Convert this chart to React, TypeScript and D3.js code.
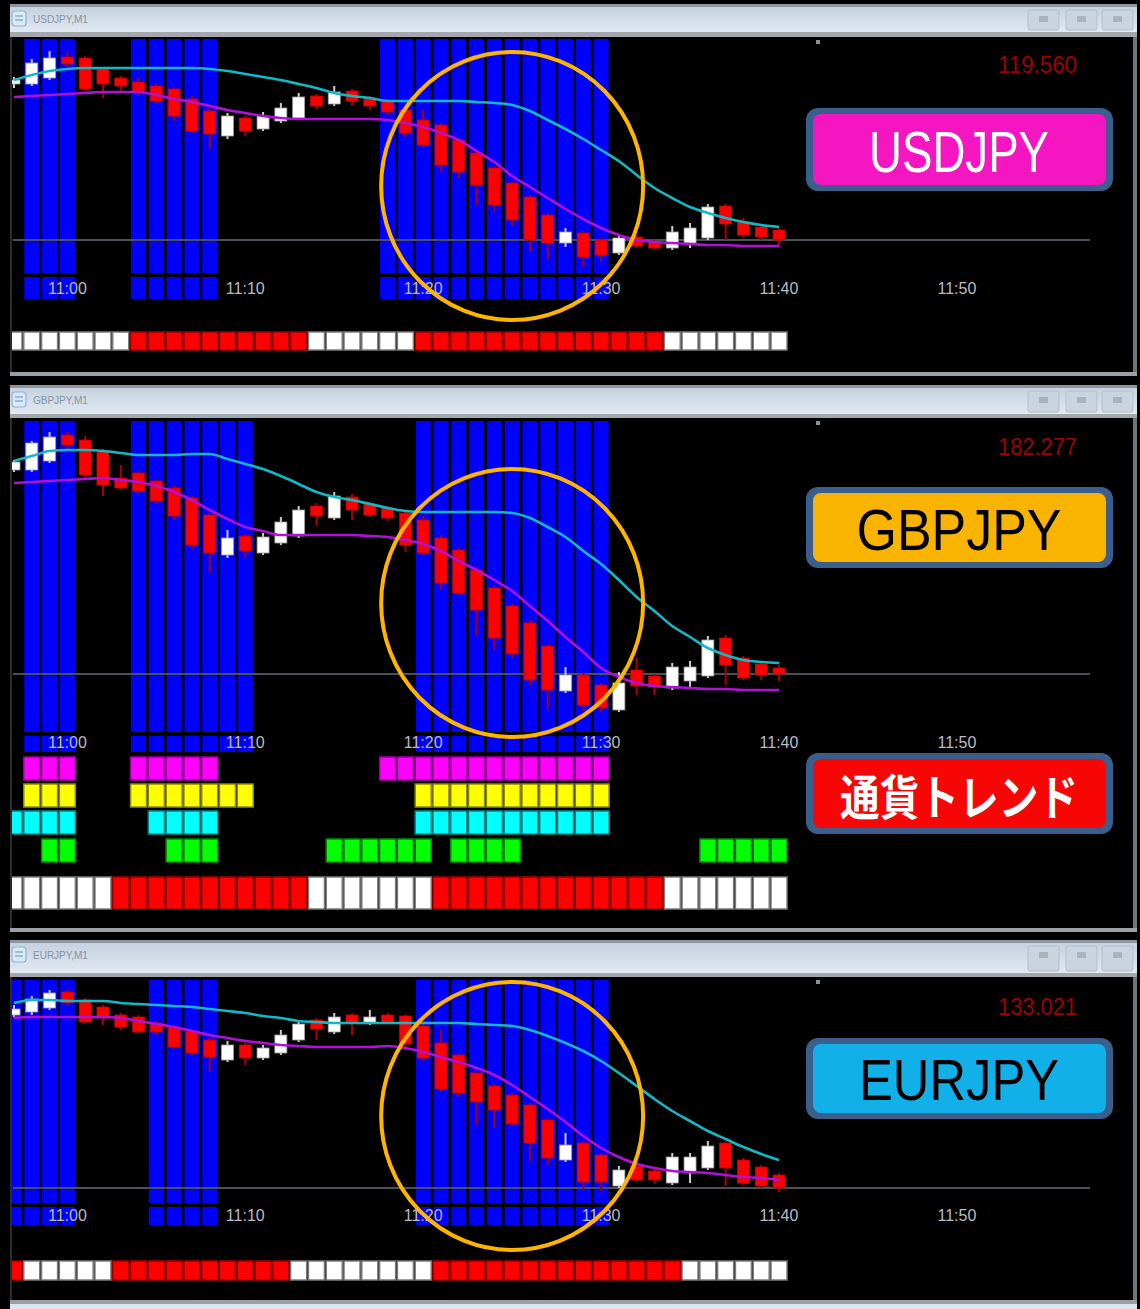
import React from "react";
import * as d3 from "d3";

// ---------- categories ----------
const candleTimes = [
  "10:57", "10:58", "10:59", "11:00", "11:01", "11:02", "11:03", "11:04", "11:05", "11:06", "11:07",
  "11:08", "11:09", "11:10", "11:11", "11:12", "11:13", "11:14", "11:15", "11:16", "11:17", "11:18",
  "11:19", "11:20", "11:21", "11:22", "11:23", "11:24", "11:25", "11:26", "11:27", "11:28", "11:29",
  "11:30", "11:31", "11:32", "11:33", "11:34", "11:35", "11:36", "11:37", "11:38", "11:39", "11:40",
];
const timeTicks = ["11:00", "11:10", "11:20", "11:30", "11:40", "11:50"];

// ---------- USDJPY ----------
const usdOpen = [119.716, 119.716, 119.722, 119.743, 119.742, 119.731, 119.722, 119.718, 119.714, 119.711, 119.701, 119.689, 119.664, 119.682, 119.671, 119.679, 119.682, 119.704, 119.696, 119.709, 119.702, 119.699, 119.690, 119.680, 119.675, 119.660, 119.647, 119.632, 119.617, 119.603, 119.585, 119.557, 119.567, 119.560, 119.547, 119.563, 119.558, 119.552, 119.557, 119.562, 119.594, 119.578, 119.573, 119.570];
const usdHigh = [119.723, 119.741, 119.749, 119.748, 119.744, 119.733, 119.724, 119.722, 119.716, 119.713, 119.704, 119.692, 119.687, 119.684, 119.688, 119.697, 119.707, 119.706, 119.714, 119.711, 119.704, 119.701, 119.692, 119.690, 119.677, 119.662, 119.649, 119.634, 119.619, 119.605, 119.587, 119.572, 119.569, 119.562, 119.565, 119.565, 119.560, 119.574, 119.577, 119.596, 119.596, 119.582, 119.575, 119.572];
const usdLow = [119.712, 119.714, 119.720, 119.732, 119.709, 119.702, 119.709, 119.704, 119.696, 119.679, 119.667, 119.651, 119.661, 119.664, 119.669, 119.677, 119.680, 119.691, 119.694, 119.694, 119.690, 119.685, 119.663, 119.652, 119.629, 119.622, 119.595, 119.588, 119.574, 119.548, 119.540, 119.553, 119.533, 119.538, 119.545, 119.552, 119.550, 119.550, 119.552, 119.560, 119.560, 119.563, 119.560, 119.555];
const usdClose = [119.720, 119.737, 119.742, 119.736, 119.711, 119.716, 119.714, 119.707, 119.699, 119.684, 119.669, 119.666, 119.684, 119.669, 119.684, 119.692, 119.703, 119.694, 119.708, 119.699, 119.694, 119.688, 119.667, 119.655, 119.635, 119.628, 119.615, 119.595, 119.580, 119.560, 119.557, 119.568, 119.543, 119.545, 119.562, 119.554, 119.552, 119.568, 119.572, 119.593, 119.576, 119.565, 119.563, 119.560];
const usdSlowMA = [119.720, 119.725, 119.729, 119.731, 119.732, 119.732, 119.732, 119.732, 119.732, 119.732, 119.732, 119.731, 119.729, 119.726, 119.723, 119.720, 119.716, 119.712, 119.707, 119.704, 119.702, 119.699, 119.699, 119.699, 119.699, 119.699, 119.698, 119.697, 119.695, 119.689, 119.680, 119.671, 119.661, 119.650, 119.639, 119.625, 119.612, 119.602, 119.593, 119.587, 119.582, 119.578, 119.575, 119.573];
const usdFastMA = [119.703, 119.704, 119.705, 119.706, 119.707, 119.708, 119.708, 119.708, 119.705, 119.701, 119.698, 119.694, 119.690, 119.687, 119.684, 119.682, 119.681, 119.681, 119.681, 119.681, 119.681, 119.680, 119.677, 119.673, 119.667, 119.660, 119.649, 119.638, 119.624, 119.613, 119.602, 119.591, 119.581, 119.572, 119.565, 119.560, 119.558, 119.557, 119.556, 119.555, 119.555, 119.554, 119.554, 119.554];
const usdSignalBars = [1, 2, 3, 7, 8, 9, 10, 11, 21, 22, 23, 24, 25, 26, 27, 28, 29, 30, 31, 32, 33];
const usdTrend = "WWWWWWWRRRRRRRRRRWWWWWWRRRRRRRRRRRRRRWWWWWWW";
const usdPrice = "119.560";

// ---------- GBPJPY ----------
const gbpOpen = [182.481, 182.481, 182.490, 182.516, 182.511, 182.500, 182.473, 182.478, 182.470, 182.463, 182.453, 182.436, 182.396, 182.415, 182.398, 182.408, 182.415, 182.445, 182.433, 182.454, 182.447, 182.443, 182.438, 182.431, 182.413, 182.401, 182.381, 182.363, 182.345, 182.328, 182.305, 182.260, 182.276, 182.266, 182.241, 182.281, 182.275, 182.263, 182.270, 182.275, 182.313, 182.293, 182.287, 182.283];
const gbpHigh = [182.491, 182.510, 182.519, 182.519, 182.515, 182.502, 182.486, 182.480, 182.472, 182.465, 182.455, 182.438, 182.421, 182.417, 182.418, 182.434, 182.445, 182.448, 182.459, 182.457, 182.449, 182.445, 182.440, 182.435, 182.416, 182.403, 182.384, 182.366, 182.347, 182.331, 182.307, 182.284, 182.278, 182.268, 182.279, 182.293, 182.277, 182.288, 182.290, 182.315, 182.316, 182.295, 182.289, 182.286];
const gbpLow = [182.479, 182.479, 182.488, 182.500, 182.473, 182.455, 182.461, 182.457, 182.447, 182.431, 182.402, 182.378, 182.393, 182.393, 182.396, 182.406, 182.413, 182.425, 182.431, 182.431, 182.434, 182.430, 182.399, 182.396, 182.361, 182.355, 182.316, 182.301, 182.293, 182.266, 182.241, 182.258, 182.240, 182.239, 182.239, 182.256, 182.256, 182.261, 182.263, 182.273, 182.266, 182.271, 182.271, 182.270];
const gbpClose = [182.489, 182.508, 182.514, 182.506, 182.476, 182.466, 182.463, 182.460, 182.450, 182.435, 182.406, 182.398, 182.413, 182.400, 182.414, 182.429, 182.441, 182.435, 182.455, 182.441, 182.436, 182.433, 182.406, 182.398, 182.368, 182.358, 182.341, 182.313, 182.297, 182.271, 182.261, 182.276, 182.246, 182.243, 182.268, 182.265, 182.264, 182.284, 182.284, 182.311, 182.286, 182.273, 182.276, 182.277];
const gbpSlowMA = [182.490, 182.495, 182.500, 182.501, 182.501, 182.500, 182.498, 182.496, 182.496, 182.496, 182.497, 182.497, 182.492, 182.487, 182.482, 182.475, 182.467, 182.459, 182.454, 182.451, 182.447, 182.443, 182.440, 182.439, 182.439, 182.439, 182.439, 182.439, 182.438, 182.433, 182.424, 182.414, 182.400, 182.387, 182.371, 182.354, 182.340, 182.325, 182.314, 182.303, 182.296, 182.291, 182.289, 182.288];
const gbpFastMA = [182.468, 182.469, 182.470, 182.471, 182.472, 182.473, 182.471, 182.469, 182.465, 182.459, 182.451, 182.441, 182.432, 182.424, 182.420, 182.416, 182.416, 182.416, 182.416, 182.416, 182.415, 182.414, 182.411, 182.407, 182.400, 182.390, 182.381, 182.371, 182.360, 182.345, 182.330, 182.314, 182.299, 182.283, 182.274, 182.268, 182.265, 182.264, 182.263, 182.262, 182.262, 182.261, 182.261, 182.261];
const gbpSignalBars = [1, 2, 3, 7, 8, 9, 10, 11, 12, 13, 23, 24, 25, 26, 27, 28, 29, 30, 31, 32, 33];
const gbpTrend = "WWWWWWRRRRRRRRRRRWWWWWWWRRRRRRRRRRRRRWWWWWWW";
const gbpPrice = "182.277";
// currency-trend rows (通貨トレンド)
const trendUsdRow = [1, 2, 3, 7, 8, 9, 10, 11, 21, 22, 23, 24, 25, 26, 27, 28, 29, 30, 31, 32, 33];
const trendGbpRow = [1, 2, 3, 7, 8, 9, 10, 11, 12, 13, 23, 24, 25, 26, 27, 28, 29, 30, 31, 32, 33];
const trendEurRow = [0, 1, 2, 3, 8, 9, 10, 11, 23, 24, 25, 26, 27, 28, 29, 30, 31, 32, 33];
const trendJpyRow = [2, 3, 9, 10, 11, 18, 19, 20, 21, 22, 23, 25, 26, 27, 28, 39, 40, 41, 42, 43];

// ---------- EURJPY ----------
const eurOpen = [133.194, 133.197, 133.201, 133.217, 133.209, 133.202, 133.194, 133.192, 133.186, 133.182, 133.177, 133.169, 133.149, 133.164, 133.151, 133.156, 133.169, 133.189, 133.177, 133.194, 133.186, 133.194, 133.193, 133.183, 133.166, 133.154, 133.136, 133.123, 133.114, 133.104, 133.089, 133.049, 133.066, 133.054, 133.023, 133.043, 133.038, 133.026, 133.036, 133.041, 133.066, 133.049, 133.042, 133.034];
const eurHigh = [133.204, 133.213, 133.219, 133.219, 133.211, 133.204, 133.196, 133.194, 133.188, 133.184, 133.179, 133.171, 133.168, 133.166, 133.164, 133.179, 133.189, 133.191, 133.196, 133.196, 133.199, 133.196, 133.195, 133.185, 133.179, 133.156, 133.138, 133.125, 133.116, 133.106, 133.091, 133.076, 133.068, 133.056, 133.043, 133.049, 133.040, 133.056, 133.056, 133.068, 133.068, 133.051, 133.044, 133.036];
const eurLow = [133.192, 133.194, 133.199, 133.203, 133.185, 133.184, 133.179, 133.175, 133.174, 133.160, 133.153, 133.137, 133.147, 133.144, 133.149, 133.154, 133.167, 133.169, 133.175, 133.174, 133.184, 133.185, 133.159, 133.148, 133.117, 133.112, 133.084, 133.081, 133.083, 133.048, 133.043, 133.047, 133.019, 133.018, 133.021, 133.027, 133.025, 133.024, 133.026, 133.039, 133.023, 133.024, 133.021, 133.017];
const eurClose = [133.200, 133.210, 133.216, 133.206, 133.187, 133.191, 133.182, 133.177, 133.177, 133.162, 133.156, 133.152, 133.164, 133.151, 133.161, 133.174, 133.185, 133.180, 133.192, 133.186, 133.192, 133.187, 133.165, 133.151, 133.120, 133.116, 133.107, 133.099, 133.085, 133.066, 133.051, 133.064, 133.027, 133.027, 133.039, 133.029, 133.029, 133.052, 133.052, 133.063, 133.041, 133.026, 133.023, 133.021];
const eurSlowMA = [133.206, 133.209, 133.209, 133.208, 133.208, 133.208, 133.206, 133.205, 133.204, 133.203, 133.202, 133.200, 133.198, 133.196, 133.193, 133.191, 133.188, 133.187, 133.186, 133.186, 133.186, 133.186, 133.186, 133.186, 133.186, 133.186, 133.185, 133.184, 133.183, 133.179, 133.173, 133.166, 133.158, 133.148, 133.136, 133.123, 133.110, 133.098, 133.088, 133.078, 133.070, 133.062, 133.055, 133.049];
const eurFastMA = [133.191, 133.192, 133.192, 133.192, 133.192, 133.192, 133.191, 133.188, 133.185, 133.182, 133.178, 133.174, 133.171, 133.168, 133.166, 133.164, 133.163, 133.162, 133.162, 133.162, 133.162, 133.163, 133.161, 133.157, 133.152, 133.147, 133.141, 133.134, 133.124, 133.112, 133.100, 133.087, 133.073, 133.061, 133.052, 133.045, 133.041, 133.038, 133.037, 133.036, 133.034, 133.032, 133.031, 133.029];
const eurSignalBars = [0, 1, 2, 3, 8, 9, 10, 11, 23, 24, 25, 26, 27, 28, 29, 30, 31, 32, 33];
const eurTrend = "RWWWWWRRRRRRRRRRWWWWWWWWRRRRRRRRRRRRRRWWWWWW";
const eurPrice = "133.021";

// ---------- layout / style ----------
const parseT = d3.timeParse("%H:%M");
const xScale = d3
  .scaleTime()
  .domain([parseT(candleTimes[0]) as Date, parseT(candleTimes[candleTimes.length - 1]) as Date])
  .range([14, 779]);
const cx = (i: number) => xScale(parseT(candleTimes[i]) as Date);

const WIN_L = 10;
const WIN_R = 1137;

type Row = { idx: number[]; fill: string; stroke: string; top: number; h: number };
type PanelCfg = {
  symbol: string;
  open: number[]; high: number[]; low: number[]; close: number[];
  slow: number[]; fast: number[];
  signal: number[]; trend: string; price: string;
  winTop: number; titleBottom: number; chartTop: number; chartBottom: number;
  priceTop: number; priceBottom: number;
  blueTop: number; blueGap: number; blueBottom: number;
  tickY: number; trendTop: number; trendH: number;
  priceY: number;
  boxes: { y: number; h: number; fill: string; text: string; color: string; size: number; len: number; base: number; bold?: boolean }[];
  circleTime: string; circlePrice: number;
  rows?: Row[];
};

const panels: PanelCfg[] = [
  {
    symbol: "USDJPY", open: usdOpen, high: usdHigh, low: usdLow, close: usdClose,
    slow: usdSlowMA, fast: usdFastMA, signal: usdSignalBars, trend: usdTrend, price: usdPrice,
    winTop: 7, titleBottom: 32, chartTop: 37, chartBottom: 372,
    priceTop: 119.763, priceBottom: 119.428,
    blueTop: 39, blueGap: 273, blueBottom: 299, tickY: 294, trendTop: 332, trendH: 18,
    priceY: 73,
    boxes: [{ y: 108, h: 83, fill: "#f516c2", text: "USDJPY", color: "#ffffff", size: 58, len: 180, base: 172 }],
    circleTime: "11:25", circlePrice: 119.614,
  },
  {
    symbol: "GBPJPY", open: gbpOpen, high: gbpHigh, low: gbpLow, close: gbpClose,
    slow: gbpSlowMA, fast: gbpFastMA, signal: gbpSignalBars, trend: gbpTrend, price: gbpPrice,
    winTop: 388, titleBottom: 414, chartTop: 418, chartBottom: 928,
    priceTop: 182.533, priceBottom: 182.023,
    blueTop: 421, blueGap: 732, blueBottom: 752, tickY: 748, trendTop: 877, trendH: 32,
    priceY: 455,
    boxes: [
      { y: 487, h: 81, fill: "#f8b400", text: "GBPJPY", color: "#000000", size: 58, len: 205, base: 550 },
      { y: 753, h: 81, fill: "#f80606", text: "通貨トレンド", color: "#ffffff", size: 48, len: 238, base: 815, bold: true },
    ],
    circleTime: "11:25", circlePrice: 182.348,
    rows: [
      { idx: trendUsdRow, fill: "#ff00ff", stroke: "#9a009a", top: 757, h: 23 },
      { idx: trendGbpRow, fill: "#ffff00", stroke: "#8a8a00", top: 784, h: 23 },
      { idx: trendEurRow, fill: "#00ffff", stroke: "#008888", top: 811, h: 23 },
      { idx: trendJpyRow, fill: "#00ff00", stroke: "#008a00", top: 839, h: 23 },
    ],
  },
  {
    symbol: "EURJPY", open: eurOpen, high: eurHigh, low: eurLow, close: eurClose,
    slow: eurSlowMA, fast: eurFastMA, signal: eurSignalBars, trend: eurTrend, price: eurPrice,
    winTop: 943, titleBottom: 973, chartTop: 977, chartBottom: 1300,
    priceTop: 133.232, priceBottom: 132.909,
    blueTop: 980, blueGap: 1203, blueBottom: 1225, tickY: 1221, trendTop: 1261, trendH: 19,
    priceY: 1015,
    boxes: [{ y: 1038, h: 81, fill: "#12b0e8", text: "EURJPY", color: "#000000", size: 58, len: 200, base: 1100 }],
    circleTime: "11:25", circlePrice: 133.093,
  },
];

function Panel({ p, k }: { p: PanelCfg; k: number }) {
  const y = d3.scaleLinear().domain([p.priceBottom, p.priceTop]).range([p.chartBottom, p.chartTop]);
  const line = d3
    .line<number>()
    .x((_, i) => cx(i))
    .y((d) => y(d))
    .curve(d3.curveMonotoneX);
  const clipId = `clip${k}`;
  const curPrice = +p.price;
  const bw = 15;
  const titleH = p.titleBottom - p.winTop;
  return (
    <g>
      {/* window chrome */}
      <rect x={WIN_L} y={p.winTop - 3} width={WIN_R - WIN_L} height={3} fill="#8e959c" />
      <rect x={WIN_L} y={p.winTop} width={WIN_R - WIN_L} height={titleH} fill="url(#titleGrad)" />
      <rect x={12} y={p.winTop + 4} width={14} height={15} rx={3} fill="#dbe8f5" stroke="#8fb2d8" strokeWidth={1.2} />
      <rect x={15} y={p.winTop + 8} width={8} height={2} fill="#9fbce0" />
      <rect x={15} y={p.winTop + 12} width={8} height={2} fill="#9fbce0" />
      <text x={33} y={p.winTop + 16} fontSize={10} fill="#8593a3" fontFamily="Liberation Sans, Arial, sans-serif">
        {p.symbol},M1
      </text>
      {[1028, 1066, 1102].map((bx, j) => (
        <g key={j}>
          <rect x={bx} y={p.winTop + 3} width={31} height={titleH - 5} rx={2} fill="#c9d4df" stroke="#b3bfcc" />
          <rect x={bx + 11} y={p.winTop + 9} width={9} height={6} fill="#aab3bd" />
        </g>
      ))}
      <rect x={WIN_L} y={p.titleBottom} width={WIN_R - WIN_L} height={p.chartTop - p.titleBottom} fill="#a3a8ad" />
      <rect x={WIN_L} y={p.chartTop} width={WIN_R - WIN_L} height={p.chartBottom - p.chartTop} fill="#000" />
      <rect x={WIN_L} y={p.chartTop} width={2} height={p.chartBottom - p.chartTop} fill="#2a2d30" />
      <rect x={WIN_R - 4} y={p.chartTop} width={4} height={p.chartBottom - p.chartTop} fill="#6f757b" />
      <rect x={WIN_L} y={p.chartBottom} width={WIN_R - WIN_L} height={4} fill="#9aa0a6" />

      <defs>
        <clipPath id={clipId}>
          <rect x={12} y={p.chartTop} width={WIN_R - 16} height={p.chartBottom - p.chartTop} />
        </clipPath>
      </defs>
      <g clipPath={`url(#${clipId})`}>
        {/* signal histogram bars */}
        {p.signal.map((i) => (
          <g key={`b${i}`}>
            <rect x={cx(i) - bw / 2} y={p.blueTop} width={bw} height={p.blueGap - p.blueTop} fill="#0000ff" />
            <rect x={cx(i) - bw / 2} y={p.blueGap + 4} width={bw} height={p.blueBottom - p.blueGap - 4} fill="#0000ff" />
          </g>
        ))}
        {/* current price line */}
        <line x1={13} x2={1090} y1={y(curPrice)} y2={y(curPrice)} stroke="#4b5157" strokeWidth={2} />
        {/* candles */}
        {candleTimes.map((t, i) => {
          const o = p.open[i], c = p.close[i], h = p.high[i], l = p.low[i];
          const bull = c >= o;
          const top = y(Math.max(o, c));
          const bot = y(Math.min(o, c));
          const xc = cx(i);
          return (
            <g key={t}>
              <line x1={xc} x2={xc} y1={y(h)} y2={y(l)} stroke={bull ? "#cfcfcf" : "#a80000"} strokeWidth={2} />
              <rect
                x={xc - 6}
                y={top}
                width={12}
                height={Math.max(2, bot - top)}
                fill={bull ? "#ffffff" : "#ff0000"}
                stroke={bull ? "#9c9c9c" : "#c00000"}
                strokeWidth={0.8}
              />
            </g>
          );
        })}
        {/* moving averages */}
        <path d={line(p.slow) || ""} fill="none" stroke="#12b8c4" strokeWidth={2.6} />
        <path d={line(p.fast) || ""} fill="none" stroke="#b010d8" strokeWidth={2.6} />
        {/* time labels */}
        {timeTicks.map((t) => (
          <text
            key={t}
            x={xScale(parseT(t) as Date)}
            y={p.tickY}
            textAnchor="middle"
            fontSize={16}
            fill="#b9bcc4"
            fontFamily="Liberation Sans, Arial, sans-serif"
          >
            {t}
          </text>
        ))}
        {/* indicator rows */}
        {(p.rows || []).map((r, ri) =>
          r.idx.map((i) => (
            <rect
              key={`r${ri}-${i}`}
              x={cx(i) - 8}
              y={r.top}
              width={16}
              height={r.h}
              fill={r.fill}
              stroke={r.stroke}
              strokeWidth={1.5}
            />
          ))
        )}
        {/* trend row */}
        {p.trend.split("").map((s, i) => (
          <rect
            key={`t${i}`}
            x={cx(i) - 8}
            y={p.trendTop}
            width={16}
            height={p.trendH}
            fill={s === "R" ? "#ff0000" : "#ffffff"}
            stroke={s === "R" ? "#9a0000" : "#7c7c7c"}
            strokeWidth={1.5}
          />
        ))}
        {/* highlight circle */}
        <ellipse
          cx={xScale(parseT(p.circleTime) as Date)}
          cy={y(p.circlePrice)}
          rx={131}
          ry={134}
          fill="none"
          stroke="#ffb400"
          strokeWidth={4}
        />
      </g>
      {/* small marker */}
      <rect x={816} y={p.chartTop + 3} width={4} height={4} fill="#8a9098" />
      {/* price label */}
      <text
        x={998}
        y={p.priceY}
        fontSize={24}
        fill="#a00000"
        textLength={79}
        lengthAdjust="spacingAndGlyphs"
        fontFamily="Liberation Sans, Arial, sans-serif"
      >
        {p.price}
      </text>
      {/* symbol boxes */}
      {p.boxes.map((b, j) => (
        <g key={j}>
          <rect x={806} y={b.y} width={307} height={b.h} rx={12} fill="#3b5f8c" />
          <rect x={813} y={b.y + 6} width={293} height={b.h - 12} rx={8} fill={b.fill} />
          <text
            x={959}
            y={b.base}
            textAnchor="middle"
            fontSize={b.size}
            fontWeight={b.bold ? 700 : 400}
            fill={b.color}
            textLength={b.len}
            lengthAdjust="spacingAndGlyphs"
            fontFamily={b.bold ? "Noto Sans CJK JP, sans-serif" : "Liberation Sans, Arial, sans-serif"}
          >
            {b.text}
          </text>
        </g>
      ))}
    </g>
  );
}

export default function App() {
  return (
    <svg
      width={1140}
      height={1309}
      style={{ position: "absolute", left: 0, top: 0, display: "block" }}
      xmlns="http://www.w3.org/2000/svg"
    >
      <defs>
        <linearGradient id="titleGrad" x1="0" y1="0" x2="0" y2="1">
          <stop offset="0" stopColor="#c5d1de" />
          <stop offset="1" stopColor="#e1e9f2" />
        </linearGradient>
      </defs>
      <rect x={0} y={0} width={1140} height={1309} fill="#000" />
      {panels.map((p, k) => (
        <Panel key={p.symbol} p={p} k={k} />
      ))}
      <rect x={WIN_L} y={1304} width={WIN_R - WIN_L} height={5} fill="#dce6f0" />
    </svg>
  );
}
